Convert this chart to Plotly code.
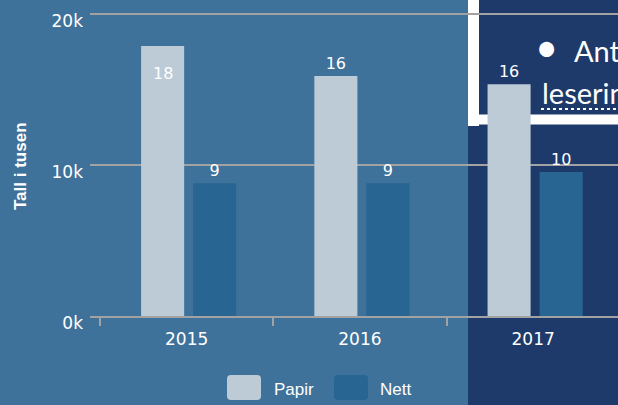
import plotly.graph_objects as go

# ---- data ----
years = ["2015", "2016", "2017"]
papir = [17900, 15900, 15350]
nett = [8800, 8800, 9550]
papir_labels = ["18", "16", "16"]
nett_labels = ["9", "9", "10"]
series_names = ["Papir", "Nett"]
y_tickvals = [0, 10000, 20000]
y_ticktext = ["0k", "10k", "20k"]
y_title = "Tall i tusen"
box_line1 = "Antall"
box_line2 = "leserinntekter"

# ---- style ----
BG = "#3f729b"
NAVY = "#1e3a6a"
C_PAPIR = "#bccbd6"
C_NETT = "#286592"
GRID = "#a2a2a2"
W, H = 618, 405
ML, MR, MT, MB = 90, 0, 13, 89
PW, PH = W - ML - MR, H - MT - MB
YMAX = 20080
CAT_PX = 173.0          # pixel width of one category
BAR_W = 43 / CAT_PX     # bar width in category units


def px(x):
    return (x - ML) / PW


def py(y):
    return (H - MB - y) / PH


fig = go.Figure()
fig.add_trace(go.Bar(
    x=years, y=papir, name=series_names[0], marker_color=C_PAPIR,
    marker_line_width=0, width=BAR_W, offset=-45.5 / CAT_PX,
    text=[""] + papir_labels[1:], textposition="outside",
    constraintext="none", cliponaxis=False,
    textfont=dict(family="DejaVu Sans", size=16, color="white"),
))
fig.add_trace(go.Bar(
    x=years, y=nett, name=series_names[1], marker_color=C_NETT,
    marker_line_width=0, width=BAR_W, offset=6.5 / CAT_PX,
    text=nett_labels, textposition="outside", constraintext="none",
    cliponaxis=False,
    textfont=dict(family="DejaVu Sans", size=16, color="white"),
))

shapes = [
    # dark overlay region on the right
    dict(type="rect", xref="paper", yref="paper", x0=px(468), x1=px(640),
         y0=py(H + 5), y1=py(-5), fillcolor=NAVY, line_width=0, layer="below"),
    # white frame of the box
    dict(type="rect", xref="paper", yref="paper", x0=px(468), x1=px(479),
         y0=py(126), y1=py(-5), fillcolor="white", line_width=0, layer="below"),
    dict(type="rect", xref="paper", yref="paper", x0=px(468), x1=px(640),
         y0=py(124.5), y1=py(114.5), fillcolor="white", line_width=0, layer="below"),
    # dotted underline
    dict(type="line", xref="paper", yref="paper", x0=px(541), x1=px(640),
         y0=py(109), y1=py(109), line=dict(color="white", width=2, dash="dot")),
]


def rounded(x0, y0, x1, y1, r=4):
    return (f"M {px(x0 + r)},{py(y0)} L {px(x1 - r)},{py(y0)} "
            f"Q {px(x1)},{py(y0)} {px(x1)},{py(y0 + r)} L {px(x1)},{py(y1 - r)} "
            f"Q {px(x1)},{py(y1)} {px(x1 - r)},{py(y1)} L {px(x0 + r)},{py(y1)} "
            f"Q {px(x0)},{py(y1)} {px(x0)},{py(y1 - r)} L {px(x0)},{py(y0 + r)} "
            f"Q {px(x0)},{py(y0)} {px(x0 + r)},{py(y0)} Z")


legend_items = [(series_names[0], C_PAPIR, 227, 272), (series_names[1], C_NETT, 334, 378)]
annotations = []
for name, col, sx, tx in legend_items:
    shapes.append(dict(type="path", xref="paper", yref="paper",
                       path=rounded(sx, 375, sx + 34, 400), fillcolor=col,
                       line_width=0))
    annotations.append(dict(xref="paper", yref="paper", x=px(tx), y=py(389),
                            xanchor="left", yanchor="middle", text=name,
                            showarrow=False,
                            font=dict(family="Liberation Sans", size=17, color="white")))

annotations += [
    # value label drawn inside the top of the tallest bar (category index 0)
    dict(x=years.index(years[0]), y=papir[0], xref="x", yref="y", text=papir_labels[0],
         showarrow=False, xanchor="center", yanchor="top", xshift=-24, yshift=-16,
         font=dict(family="DejaVu Sans", size=16, color="white")),
    dict(xref="paper", yref="paper", x=px(20), y=py(166), text=f"<b>{y_title}</b>",
         textangle=-90, showarrow=False, xanchor="center", yanchor="middle",
         font=dict(family="Liberation Sans", size=17, color="white")),
    dict(xref="paper", yref="paper", x=px(546), y=py(47), text="•",
         showarrow=False, xanchor="center", yanchor="middle",
         font=dict(family="Lato", size=40, color="white")),
    dict(xref="paper", yref="paper", x=px(572), y=py(50), text=box_line1,
         showarrow=False, xanchor="left", yanchor="middle",
         font=dict(family="Lato", size=29, color="white")),
    dict(xref="paper", yref="paper", x=px(540), y=py(92), text=box_line2,
         showarrow=False, xanchor="left", yanchor="middle",
         font=dict(family="Lato", size=29, color="white")),
]

fig.update_layout(
    width=W, height=H,
    margin=dict(l=ML, r=MR, t=MT, b=MB, pad=0),
    paper_bgcolor=BG, plot_bgcolor="rgba(0,0,0,0)",
    barmode="group",
    showlegend=False,
    shapes=shapes, annotations=annotations,
    font=dict(family="DejaVu Sans", color="white"),
)
fig.update_xaxes(
    type="category", range=[-0.558, 2.49], tickson="boundaries",
    ticks="outside", ticklen=8, tickwidth=2, tickcolor=GRID,
    showline=True, linecolor=GRID, linewidth=2, showgrid=False,
    ticklabelstandoff=7,
    tickfont=dict(family="DejaVu Sans", size=17, color="white"),
)
fig.update_yaxes(
    range=[0, YMAX], tickvals=y_tickvals, ticktext=y_ticktext,
    showgrid=True, gridcolor=GRID, gridwidth=2, zeroline=False,
    showline=False, ticks="", ticklabelshift=7, ticklabelstandoff=6,
    tickfont=dict(family="DejaVu Sans", size=17, color="white"),
)

fig.write_html("out.html", config={"displayModeBar": False},
               post_script="document.body.style.margin='0';")
